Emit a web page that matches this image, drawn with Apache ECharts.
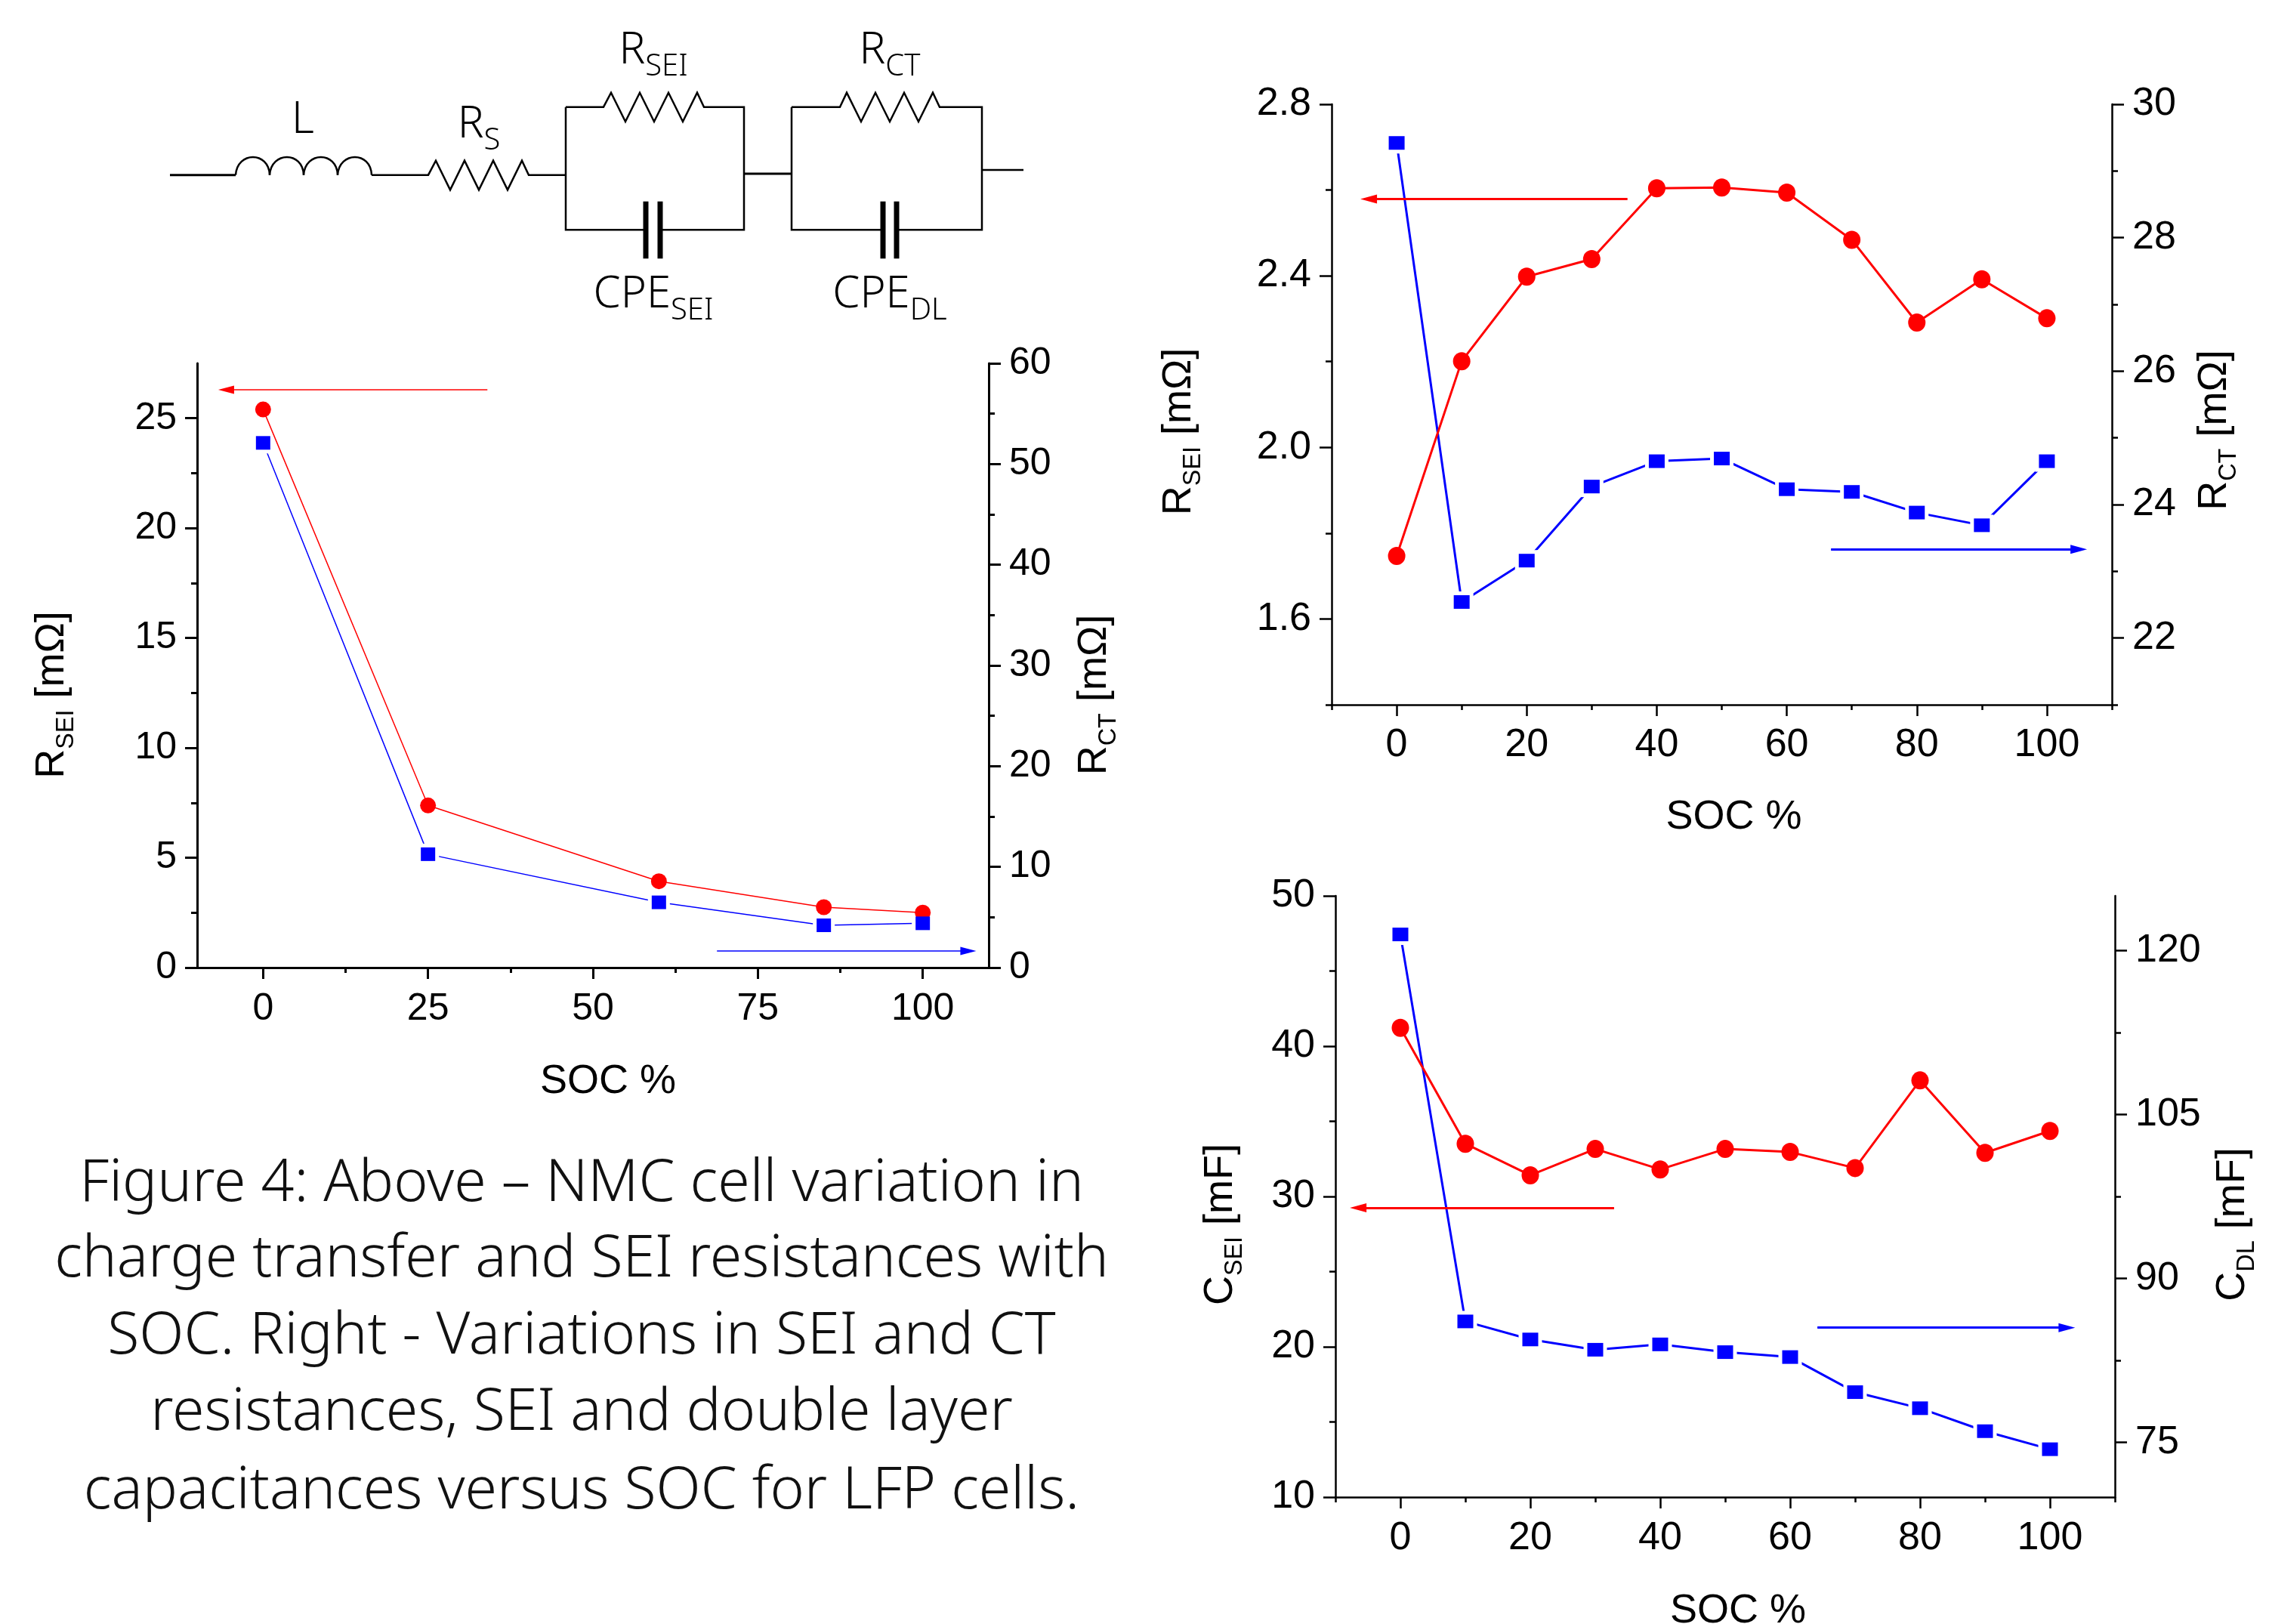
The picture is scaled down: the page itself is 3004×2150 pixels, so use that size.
<!DOCTYPE html>
<html><head><meta charset="utf-8">
<style>html,body{margin:0;padding:0;background:#fff}#c{width:3004px;height:2150px}</style>
<script src="https://cdn.jsdelivr.net/npm/echarts@6/dist/echarts.min.js"></script>
</head><body><div id="c"></div>
<script>
// ---- data: NMC cell (left chart)
const nmcSoc = [0, 25, 60, 85, 100];
const nmcRsei = [25.4, 7.38, 3.93, 2.75, 2.5];
const nmcRct = [52.1, 11.26, 6.48, 4.2, 4.4];
// ---- data: LFP cell (right charts)
const lfpSoc = [0, 10, 20, 30, 40, 50, 60, 70, 80, 90, 100];
const lfpRsei = [1.747, 2.201, 2.398, 2.439, 2.604, 2.606, 2.594, 2.484, 2.291, 2.392, 2.301];
const lfpRct = [29.42, 22.54, 23.16, 24.27, 24.65, 24.69, 24.23, 24.19, 23.88, 23.69, 24.65];
const lfpCsei = [41.22, 33.51, 31.41, 33.16, 31.8, 33.16, 32.96, 31.89, 37.72, 32.9, 34.36];
const lfpCdl = [121.47, 86.07, 84.42, 83.48, 83.97, 83.26, 82.81, 79.6, 78.13, 76.03, 74.38];
// ---- ticks
const nmcXTicks = [0, 25, 50, 75, 100], nmcXMinor = [12.5, 37.5, 62.5, 87.5];
const nmcLTicks = [0, 5, 10, 15, 20, 25], nmcLMinor = [2.5, 7.5, 12.5, 17.5, 22.5];
const nmcRTicks = [0, 10, 20, 30, 40, 50, 60], nmcRMinor = [5, 15, 25, 35, 45, 55];
const lfpXTicks = [0, 20, 40, 60, 80, 100], lfpXMinor = [-10, 10, 30, 50, 70, 90, 110];
const rseiTicks = [1.6, 2.0, 2.4, 2.8], rseiMinor = [1.4, 1.8, 2.2, 2.6];
const rctTicks = [22, 24, 26, 28, 30], rctMinor = [21, 23, 25, 27, 29];
const cseiTicks = [10, 20, 30, 40, 50], cseiMinor = [15, 25, 35, 45];
const cdlTicks = [75, 90, 105, 120], cdlMinor = [82.5, 97.5, 112.5];
// ---- direction arrows [xFrom, xTo, y]
const nmcLeftArrow = [34, -5.6, 26.3], nmcRightArrow = [68.8, 106.9, 1.65];
const rLeftArrow = [35.5, -4.3, 2.579], rRightArrow = [66.8, 104.9, 23.33];
const cLeftArrow = [32.9, -6.5, 29.24], cRightArrow = [64.2, 102.6, 85.5];
// ---- text
const captionLines = [
  'Figure 4: Above \u2013 NMC cell variation in',
  'charge transfer and SEI resistances with',
  'SOC. Right - Variations in SEI and CT',
  'resistances, SEI and double layer',
  'capacitances versus SOC for LFP cells.'
];
const xName = 'SOC %';

const SANS = '"Liberation Sans", Arial, sans-serif';
const UI = '"Noto Sans", sans-serif';
const RED = '#ff0000', BLUE = '#0000ff';
const nameRich = s => ({
  rich: {
    a: {fontFamily: SANS, fontSize: s, lineHeight: 56, padding: [0, 0, 8, 0], color: '#000'},
    s: {fontFamily: SANS, fontSize: s * 0.6, lineHeight: 34, padding: [30, 0, 0, 0], color: '#000'}
  }
});

const grids = [], xAxes = [], yAxes = [], series = [];
const zip = (a, b) => a.map((v, i) => [v, b[i]]);

function addChart(c) {
  const g = grids.length;
  grids.push({left: c.box[0], top: c.box[1], width: c.box[2] - c.box[0], height: c.box[3] - c.box[1], outerBoundsMode: 'none'});
  const x0 = xAxes.length, y0 = yAxes.length;
  const line = {show: true, onZero: false, lineStyle: {color: '#000', width: c.axisW}};
  const noLine = {show: false, onZero: false};
  const tick = (vals, len) => ({show: true, customValues: vals, length: len, inside: false, lineStyle: {color: '#000', width: c.axisW}});
  xAxes.push({
    gridIndex: g, type: 'value', position: 'bottom', min: -10, max: 110, splitLine: {show: false},
    axisLine: line, axisTick: tick(c.xTicks, 15),
    axisLabel: {customValues: c.xTicks, fontFamily: SANS, fontSize: c.font, color: '#000', margin: c.xMargin},
    name: xName, nameLocation: 'middle', nameGap: c.xGap,
    nameTextStyle: {fontFamily: SANS, fontSize: c.nameFont, color: '#000', padding: [0, 0, 0, c.xShift]}
  });
  xAxes.push({
    gridIndex: g, type: 'value', position: 'bottom', min: -10, max: 110, splitLine: {show: false},
    axisLine: noLine, axisLabel: {show: false}, axisTick: tick(c.xMinor, 7)
  });
  const yMain = (pos, s) => ({
    gridIndex: g, type: 'value', position: pos, min: s.min, max: s.max, splitLine: {show: false},
    axisLine: line, axisTick: tick(s.ticks, 16),
    axisLabel: {customValues: s.ticks, fontFamily: SANS, fontSize: c.font, color: '#000', margin: c.yMargin,
      formatter: v => v.toFixed(s.dec)},
    name: s.name, nameLocation: 'middle', nameRotate: 90, nameGap: s.gap,
    nameTextStyle: Object.assign(nameRich(c.nameFont), {padding: [0, s.shift, 0, 0]})
  });
  const yMinor = (pos, s) => ({
    gridIndex: g, type: 'value', position: pos, min: s.min, max: s.max, splitLine: {show: false},
    axisLine: noLine, axisLabel: {show: false}, axisTick: tick(s.minor, 8)
  });
  yAxes.push(yMain('left', c.left), yMinor('left', c.left), yMain('right', c.right), yMinor('right', c.right));

  const arrow = (a, color) => ({
    silent: true, animation: false, symbol: ['none', 'triangle'], symbolSize: c.arrowSize,
    label: {show: false}, lineStyle: {color, width: c.lineW, type: 'solid'},
    data: [[{coord: [a[0], a[2]]}, {coord: [a[1], a[2]]}]]
  });
  const rightData = zip(c.soc, c.right.data), leftData = zip(c.soc, c.left.data);
  // blue trace with a white halo around each point (the gap beside the markers)
  series.push({
    type: 'line', name: c.right.label, xAxisIndex: x0, yAxisIndex: y0 + 2, data: rightData, z: 3, animation: false,
    symbol: 'rect', symbolSize: [c.square[0] + 10, c.square[1] + 10], showAllSymbol: true,
    itemStyle: {color: '#fff'}, lineStyle: {color: BLUE, width: c.lineW},
    markLine: arrow(c.right.arrow, BLUE)
  });
  series.push({
    type: 'line', name: c.left.label, xAxisIndex: x0, yAxisIndex: y0, data: leftData, z: 4, animation: false,
    symbol: 'circle', symbolSize: c.circle, showAllSymbol: true,
    itemStyle: {color: RED}, lineStyle: {color: RED, width: c.lineW},
    markLine: arrow(c.left.arrow, RED)
  });
  series.push({
    type: 'scatter', name: c.right.label + ' points', xAxisIndex: x0, yAxisIndex: y0 + 2, data: rightData, z: 5, animation: false,
    symbol: 'rect', symbolSize: c.square, itemStyle: {color: BLUE, opacity: 1}
  });
}

addChart({
  box: [261, 481, 1309, 1281], soc: nmcSoc, xTicks: nmcXTicks, xMinor: nmcXMinor,
  font: 50, nameFont: 54, axisW: 3, lineW: 1.5, circle: 21, square: [19, 18], arrowSize: [11, 21],
  xMargin: 30, yMargin: 27, xGap: 124, xShift: 40,
  left: {label: 'R_SEI', data: nmcRsei, min: 0, max: 27.5, ticks: nmcLTicks, minor: nmcLMinor, dec: 0, arrow: nmcLeftArrow,
    name: '{a|R}{s|SEI}{a| [m\u03a9]}', gap: 160, shift: 78},
  right: {label: 'R_CT', data: nmcRct, min: 0, max: 60, ticks: nmcRTicks, minor: nmcRMinor, dec: 0, arrow: nmcRightArrow,
    name: '{a|R}{s|CT}{a| [m\u03a9]}', gap: 116, shift: 78}
});
addChart({
  box: [1763, 138, 2796, 933], soc: lfpSoc, xTicks: lfpXTicks, xMinor: lfpXMinor,
  font: 52, nameFont: 54, axisW: 2.5, lineW: 3, circle: [23, 24], square: [21, 18], arrowSize: [12, 22],
  xMargin: 28, yMargin: 27, xGap: 122, xShift: 32,
  left: {label: 'R_SEI', data: lfpRsei, min: 1.4, max: 2.8, ticks: rseiTicks, minor: rseiMinor, dec: 1, arrow: rLeftArrow,
    name: '{a|R}{s|SEI}{a| [m\u03a9]}', gap: 170, shift: 72},
  right: {label: 'R_CT', data: lfpRct, min: 21, max: 30, ticks: rctTicks, minor: rctMinor, dec: 0, arrow: rRightArrow,
    name: '{a|R}{s|CT}{a| [m\u03a9]}', gap: 112, shift: 68}
});
addChart({
  box: [1768, 1186, 2800, 1982], soc: lfpSoc, xTicks: lfpXTicks, xMinor: lfpXMinor,
  font: 52, nameFont: 54, axisW: 2.5, lineW: 3, circle: [23, 24], square: [21, 18], arrowSize: [12, 22],
  xMargin: 29, yMargin: 27, xGap: 124, xShift: 34,
  left: {label: 'C_SEI', data: lfpCsei, min: 10, max: 50, ticks: cseiTicks, minor: cseiMinor, dec: 0, arrow: cLeftArrow,
    name: '{a|C}{s|SEI}{a| [mF]}', gap: 120, shift: 74},
  right: {label: 'C_DL', data: lfpCdl, min: 70, max: 125, ticks: cdlTicks, minor: cdlMinor, dec: 0, arrow: cRightArrow,
    name: '{a|C}{s|DL}{a| [mF]}', gap: 132, shift: 74}
});

// ---- equivalent circuit, drawn from the crop coordinates of the schematic
const cx = z => Math.round(z * 0.7908 + 180), cy = z => Math.round(z / 3 * 10) / 10;
const wire = (pts, w) => ({type: 'polyline', silent: true, shape: {points: pts.map(p => [cx(p[0]), cy(p[1])])},
  style: {stroke: '#000', lineWidth: w || 2.5, fill: null, lineJoin: 'miter'}});
const hump = (a, b) => ({type: 'bezierCurve', silent: true,
  shape: {x1: cx(a), y1: cy(695), x2: cx(b), y2: cy(695), cpx1: cx(a + 2), cpy1: cy(600), cpx2: cx(b - 2), cpy2: cy(600)},
  style: {stroke: '#000', lineWidth: 2.5, fill: null}});
const zig = (x, y, top, bot) => [[x, y], [x + 12, top], [x + 36, bot], [x + 60, top], [x + 84, bot], [x + 108, top], [x + 132, bot], [x + 156, top], [x + 168, y]];
const circuit = [
  wire([[57, 695], [167, 695]], 3), hump(167, 224), hump(224, 281), hump(281, 338), hump(338, 395),
  wire([[395, 695], [490, 695]].concat(zig(490, 695, 638, 754)).concat([[720, 695]]), 2.5),
  wire([[720, 425], [783, 425]].concat(zig(783, 425, 368, 483)).concat([[1018, 425], [1018, 913], [880, 913]]), 2.5),
  wire([[720, 425], [720, 913], [852, 913]], 2.5),
  wire([[854, 800], [854, 1027]], 7), wire([[878, 800], [878, 1027]], 7),
  wire([[1018, 690], [1098, 690]], 3),
  wire([[1098, 425], [1178, 425]].concat(zig(1178, 425, 368, 483)).concat([[1416, 425], [1416, 913], [1276, 913]]), 2.5),
  wire([[1098, 425], [1098, 913], [1248, 913]], 2.5),
  wire([[1250, 800], [1250, 1027]], 7), wire([[1274, 800], [1274, 1027]], 7),
  wire([[1416, 675], [1486, 675]], 2.5)
];
const subRich = {
  a: {fontFamily: UI, fontWeight: 300, fontSize: 58, lineHeight: 60, padding: [0, 0, 10, 0], color: '#000'},
  s: {fontFamily: UI, fontWeight: 300, fontSize: 40, lineHeight: 36, padding: [34, 0, 0, 0], color: '#000'}
};
const circuitText = (x, y, t) => ({type: 'text', silent: true, x, y, style: {text: t, rich: subRich, align: 'center', verticalAlign: 'middle'}});
const circuitLabels = [
  circuitText(401, 164, '{a|L}'), circuitText(634, 170, '{a|R}{s|S}'),
  circuitText(865, 72, '{a|R}{s|SEI}'), circuitText(1178, 72, '{a|R}{s|CT}'),
  circuitText(865, 395, '{a|CPE}{s|SEI}'), circuitText(1178, 395, '{a|CPE}{s|DL}')
];
const captionY = [1568, 1668, 1770, 1871, 1975];
const caption = captionLines.map((t, i) => ({type: 'text', silent: true, x: 770, y: captionY[i],
  style: {text: t, fontFamily: UI, fontWeight: 300, fontSize: 77, fill: '#111', align: 'center', verticalAlign: 'middle'}}));

const chart = echarts.init(document.getElementById('c'), null, {renderer: 'canvas'});
chart.setOption({
  backgroundColor: '#fff', animation: false, tooltip: {show: false},
  grid: grids, xAxis: xAxes, yAxis: yAxes, series,
  graphic: {elements: circuit.concat(circuitLabels, caption)}
});
</script></body></html>
